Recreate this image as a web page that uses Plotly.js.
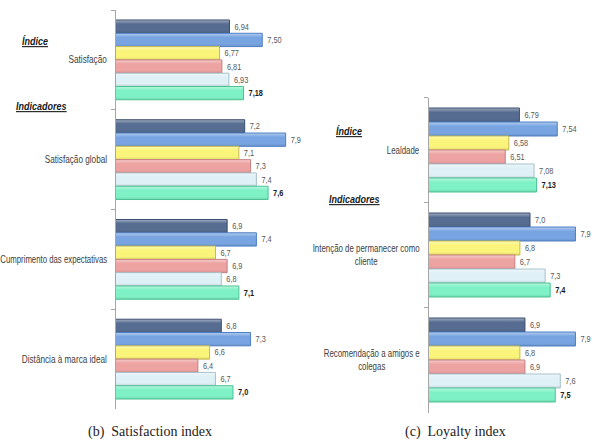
<!DOCTYPE html>
<html>
<head>
<meta charset="utf-8">
<script src="https://cdn.plot.ly/plotly-3.0.1.min.js"></script>
<style>
  html, body { margin: 0; padding: 0; background: #ffffff; }
  #chart { width: 594px; height: 441px; }
</style>
</head>
<body>
<div id="chart"></div>
<script>
// (b) Satisfaction index
const satCategories = ['Satisfação', 'Satisfação global', 'Cumprimento das expectativas', 'Distância à marca ideal'];
const satLabels = ['Satisfação', 'Satisfação global', 'Cumprimento das expectativas', 'Distância à marca ideal'];
const satDecimals = [2, 1, 1, 1];
const satSeries1 = [6.94, 7.2, 6.9, 6.8];
const satSeries2 = [7.50, 7.9, 7.4, 7.3];
const satSeries3 = [6.77, 7.1, 6.7, 6.6];
const satSeries4 = [6.81, 7.3, 6.9, 6.4];
const satSeries5 = [6.93, 7.4, 6.8, 6.7];
const satSeries6 = [7.18, 7.6, 7.1, 7.0];

// (c) Loyalty index
const loyCategories = ['Lealdade', 'Intenção de permanecer como cliente', 'Recomendação a amigos e colegas'];
const loyLabels = ['Lealdade', 'Intenção de permanecer como<br>cliente', 'Recomendação a amigos e<br>colegas'];
const loyDecimals = [2, 1, 1];
const loySeries1 = [6.79, 7.0, 6.9];
const loySeries2 = [7.54, 7.9, 7.9];
const loySeries3 = [6.58, 6.8, 6.8];
const loySeries4 = [6.51, 6.7, 6.9];
const loySeries5 = [7.08, 7.3, 7.6];
const loySeries6 = [7.13, 7.4, 7.5];

const W = 594, H = 441;
const px = v => v / W;          // pixel column -> paper x
const py = v => 1 - v / H;      // pixel row -> paper y

const sans = 'Liberation Sans, Arial, sans-serif';
const NARROW = 0.82;            // horizontal squeeze giving a narrow face

// one fill / outline per series, top bar of each group first
const fills    = ['#566c90', '#78a5e2', '#fbf47a', '#eea3a3', '#dff0f7', '#7ff1c6'];
const outlines = ['#3b4f70', '#4d7ec4', '#c4bc52', '#c78080', '#a6c1ca', '#4cc393'];

function fmt(v, d) {
  return v.toFixed(d).replace('.', ',');
}

function makeTraces(cats, seriesList, decimals, xa, ya) {
  return seriesList.map((vals, k) => {
    const last = k === seriesList.length - 1;
    return {
      type: 'bar',
      orientation: 'h',
      x: vals,
      y: cats,
      xaxis: xa,
      yaxis: ya,
      text: vals.map((v, i) => last ? '<b>' + fmt(v, decimals[i]) + '</b>' : fmt(v, decimals[i])),
      textposition: 'outside',
      constraintext: 'none',
      cliponaxis: false,
      textfont: { family: sans, size: 9, color: last ? '#1a1a1a' : '#595959' },
      marker: { color: fills[k], line: { color: outlines[k], width: 1 } },
      hoverinfo: 'skip',
      showlegend: false
    };
  });
}

const traces = [].concat(
  makeTraces(satCategories, [satSeries1, satSeries2, satSeries3, satSeries4, satSeries5, satSeries6], satDecimals, 'x', 'y'),
  makeTraces(loyCategories, [loySeries1, loySeries2, loySeries3, loySeries4, loySeries5, loySeries6], loyDecimals, 'x2', 'y2')
);

const valueAxis = (domain, range) => ({
  domain: domain, range: range, showgrid: false, zeroline: false,
  showline: false, showticklabels: false, ticks: '', fixedrange: true
});
const catAxis = (domain, anchor) => ({
  domain: domain, anchor: anchor, autorange: 'reversed', type: 'category',
  showgrid: false, zeroline: false, showticklabels: false,
  showline: true, linecolor: '#a6a6a6', linewidth: 1,
  ticks: 'outside', tickson: 'boundaries', ticklen: 4, tickcolor: '#a6a6a6', tickwidth: 1,
  fixedrange: true
});

const annotations = [];
const squeezeSpec = [];         // per annotation: [side, factor] or null

// category names beside each group
satLabels.forEach((t, i) => {
  annotations.push({
    text: t, xref: 'paper', yref: 'y', x: px(109), y: i, xanchor: 'right', yanchor: 'middle',
    align: 'center', showarrow: false, font: { family: sans, size: 10, color: '#404040' }
  });
  squeezeSpec.push(['right', t.length > 24 ? 0.78 : NARROW]);
});
loyLabels.forEach((t, i) => {
  annotations.push({
    text: t, xref: 'paper', yref: 'y2', x: px(422), y: i, xanchor: 'right', yanchor: 'middle',
    align: 'center', showarrow: false, font: { family: sans, size: 10, color: '#404040' }
  });
  squeezeSpec.push(['right', 0.79]);
});

// section headings
const heading = (t, x, y) => ({
  text: '<b><i><u>' + t + '</u></i></b>', xref: 'paper', yref: 'paper',
  x: px(x), y: py(y), xanchor: 'left', yanchor: 'middle', showarrow: false,
  font: { family: sans, size: 11, color: '#1a1a1a' }
});
[['Índice', 20, 41], ['Indicadores', 14, 106], ['Índice', 334, 131], ['Indicadores', 327, 199]]
  .forEach(h => { annotations.push(heading(h[0], h[1], h[2])); squeezeSpec.push(['left', NARROW]); });

// sub-figure captions
const caption = (t, x) => ({
  text: t, xref: 'paper', yref: 'paper', x: px(x), y: py(432), xanchor: 'center', yanchor: 'middle',
  showarrow: false, font: { family: 'Liberation Serif, DejaVu Serif, serif', size: 14, color: '#222222' }
});
annotations.push(caption('(b)\u00a0 Satisfaction index', 150)); squeezeSpec.push(null);
annotations.push(caption('(c)\u00a0 Loyalty index', 456)); squeezeSpec.push(null);

const layout = {
  width: W, height: H,
  margin: { l: 0, r: 0, t: 0, b: 0, pad: 0 },
  paper_bgcolor: '#ffffff', plot_bgcolor: '#ffffff',
  barmode: 'group', bargap: 0.2, bargroupgap: 0,
  showlegend: false,
  xaxis:  valueAxis([px(116), px(300)], [5, 5 + 184 / 58.5]),
  yaxis:  catAxis([py(409), py(10)], 'x'),
  xaxis2: valueAxis([px(429), 1], [5, 5 + 165 / 50.5]),
  yaxis2: catAxis([py(412.5), py(97.5)], 'x2'),
  annotations: annotations
};

// narrow a text element horizontally about its left or right edge, with optional nudge;
// lines of a wrapped label are centred on one another first
function squeeze(el, side, f, dx) {
  let shift = dx || 0;
  const lines = el.querySelectorAll('tspan.line');
  if (lines.length > 1) {
    const b0 = el.getBBox();
    const cx = b0.x + b0.width / 2;
    el.setAttribute('text-anchor', 'middle');
    el.style.textAnchor = 'middle';
    lines.forEach(l => l.setAttribute('x', cx));
    const b1 = el.getBBox();
    shift += side === 'right' ? (b0.x + b0.width) - (b1.x + b1.width) : b0.x - b1.x;
  }
  const b = el.getBBox();
  const ax = side === 'right' ? b.x + b.width : b.x;
  const prev = el.getAttribute('transform') || '';
  el.setAttribute('transform',
    prev + ' translate(' + (ax + shift) + ',0) scale(' + f + ',1) translate(' + (-ax) + ',0)');
}

// vertical shading so each bar reads as a rounded bevel
function mix(hex, target, t) {
  const a = parseInt(hex.slice(1), 16), b = parseInt(target.slice(1), 16);
  const ch = s => Math.round(((a >> s) & 255) * (1 - t) + ((b >> s) & 255) * t);
  return 'rgb(' + ch(16) + ',' + ch(8) + ',' + ch(0) + ')';
}
function addShading(gd) {
  const svg = gd.querySelector('svg.main-svg');
  const NS = 'http://www.w3.org/2000/svg';
  let defs = svg.querySelector('defs');
  if (!defs) { defs = document.createElementNS(NS, 'defs'); svg.insertBefore(defs, svg.firstChild); }
  fills.forEach((c, k) => {
    const g = document.createElementNS(NS, 'linearGradient');
    g.setAttribute('id', 'bevel' + k);
    g.setAttribute('x1', '0'); g.setAttribute('y1', '0');
    g.setAttribute('x2', '0'); g.setAttribute('y2', '1');
    [[0, mix(c, '#ffffff', 0.45)], [0.3, c], [0.8, c], [1, mix(c, '#000000', 0.12)]].forEach(s => {
      const st = document.createElementNS(NS, 'stop');
      st.setAttribute('offset', s[0]);
      st.setAttribute('stop-color', s[1]);
      g.appendChild(st);
    });
    defs.appendChild(g);
  });
  gd.querySelectorAll('.barlayer .trace.bars').forEach((tr, i) => {
    const k = i % fills.length;
    tr.querySelectorAll('.point path').forEach(p => { p.style.fill = 'url(#bevel' + k + ')'; });
  });
}

Plotly.newPlot('chart', traces, layout, { displayModeBar: false, staticPlot: true }).then(gd => {
  addShading(gd);
  gd.querySelectorAll('text.bartext').forEach(t => squeeze(t, 'left', NARROW, 2));
  gd.querySelectorAll('g.annotation').forEach(a => {
    const spec = squeezeSpec[+a.getAttribute('data-index')];
    const t = a.querySelector('text.annotation-text');
    if (spec && t) squeeze(t, spec[0], spec[1]);
  });
});
</script>
</body>
</html>
